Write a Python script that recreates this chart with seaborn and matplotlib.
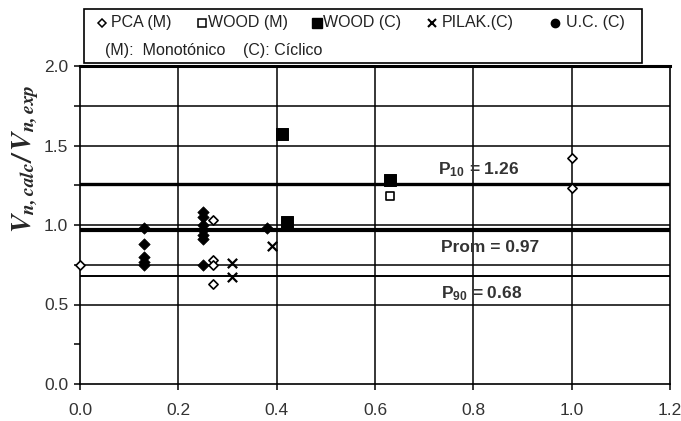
import matplotlib
matplotlib.use("Agg")
import matplotlib.pyplot as plt
import seaborn as sns
import numpy as np
import pandas as pd
from matplotlib.lines import Line2D
from matplotlib.patches import Rectangle

# ---- data ----
pca_x = [0.0, 0.27, 0.27, 0.27, 0.27, 1.0, 1.0]
pca_y = [0.75, 1.03, 0.78, 0.75, 0.63, 1.42, 1.23]
woodm_x = [0.63]
woodm_y = [1.18]
woodc_x = [0.41, 0.42, 0.63]
woodc_y = [1.57, 1.02, 1.28]
pilak_x = [0.31, 0.31, 0.39]
pilak_y = [0.76, 0.67, 0.87]
uc_x = [0.13, 0.13, 0.13, 0.13, 0.13, 0.25, 0.25, 0.25, 0.25, 0.25, 0.25, 0.25, 0.38]
uc_y = [0.98, 0.88, 0.80, 0.77, 0.75, 1.08, 1.05, 1.00, 0.97, 0.94, 0.91, 0.75, 0.98]
ref_values = [1.26, 0.97, 0.68]
ref_labels = [r"P$_{\mathregular{10}}$ = 1.26", "Prom = 0.97", r"P$_{\mathregular{90}}$ = 0.68"]
legend_labels = ["PCA (M)", "WOOD (M)", "WOOD (C)", "PILAK.(C)", "U.C. (C)"]
note_text = ["(M):  Monotónico", "(C): Cíclico"]
x_ticks = [0.0, 0.2, 0.4, 0.6, 0.8, 1.0, 1.2]
y_ticks = [0.0, 0.5, 1.0, 1.5, 2.0]

sns.set_theme(style="white")
plt.rcParams['font.family'] = ['Liberation Sans', 'DejaVu Sans']
plt.rcParams['mathtext.fontset'] = 'stix'

W, H = 681, 421
fig = plt.figure(figsize=(W/100, H/100), dpi=100)
ax = fig.add_axes([80/W, 1-384/H, 590/W, 318/H])

# grid lines
for xv in [0.2, 0.4, 0.6, 0.8, 1.0]:
    ax.axvline(xv, color='black', lw=1.1, zorder=1)
for yv in [0.5, 0.75, 1.0, 1.25, 1.5, 1.75]:
    ax.axhline(yv, color='black', lw=1.1, zorder=1)

# reference lines
ax.axhline(ref_values[0], color='black', lw=2.4, zorder=2)
ax.axhline(ref_values[1], color='black', lw=3.0, zorder=2)
ax.axhline(ref_values[2], color='black', lw=1.4, zorder=2)

# series
kw = dict(ax=ax, legend=False, zorder=5, clip_on=False)
sns.scatterplot(x=pca_x, y=pca_y, marker='D', s=22, facecolor='white', edgecolor='black', linewidth=1.2, **kw)
sns.scatterplot(x=woodm_x, y=woodm_y, marker='s', s=40, facecolor='white', edgecolor='black', linewidth=1.2, **kw)
sns.scatterplot(x=woodc_x, y=woodc_y, marker='s', s=75, color='black', edgecolor='black', **kw)
sns.scatterplot(x=pilak_x, y=pilak_y, marker='x', s=45, color='black', linewidth=1.6, **kw)
sns.scatterplot(x=uc_x, y=uc_y, marker='D', s=34, color='black', edgecolor='black', **kw)

# reference labels
lab_kw = dict(ha='center', va='center', fontsize=12.5, fontweight='bold', color='#333333', zorder=6)
ax.text(0.81, 1.345, ref_labels[0], **lab_kw)
ax.text(0.834, 0.86, ref_labels[1], **lab_kw)
ax.text(0.816, 0.57, ref_labels[2], **lab_kw)

ax.set_xlim(0, 1.2)
ax.set_ylim(0, 2.0)
ax.set_xticks(x_ticks)
ax.set_xticklabels([f"{v:.1f}" for v in x_ticks])
ax.set_yticks(y_ticks)
ax.set_yticklabels([f"{v:.1f}" for v in y_ticks])
ax.set_yticks([0.25, 0.75, 1.25, 1.75], minor=True)
ax.tick_params(axis='both', which='major', direction='out', length=4.5, width=1.1,
               color='black', labelsize=12.5, labelcolor='#333333', left=True, bottom=True)
ax.tick_params(axis='x', which='major', pad=9)
ax.tick_params(axis='y', which='major', pad=4)
ax.tick_params(axis='y', which='minor', direction='out', length=4, width=1.1, color='black', left=True)
for sp in ax.spines.values():
    sp.set_color('black')
    sp.set_linewidth(1.2)
ax.spines['top'].set_linewidth(2.2)

ax.set_ylabel(r'$\mathbfit{V_{n,calc}/\,V_{n,exp}}$', fontsize=20)
ax.yaxis.set_label_coords(-0.066, 0.71)

# legend box
fig.patches.append(Rectangle((84/W, 1-63/H), (642-84)/W, 54/H, transform=fig.transFigure,
                             facecolor='white', edgecolor='black', lw=1.2, zorder=10))
handles = [
    dict(marker='D', ms=4, mfc='white', mec='black', mew=1.1),
    dict(marker='s', ms=6, mfc='white', mec='black', mew=1.1),
    dict(marker='s', ms=7, mfc='black', mec='black'),
    dict(marker='x', ms=6, color='black', mew=1.5),
    dict(marker='o', ms=6, mfc='black', mec='black'),
]
marker_px = [102, 202, 317, 432, 555]
text_px = [111, 208, 323, 442, 566]
row1_y = 1 - 23/H
for h, mx, tx, lab in zip(handles, marker_px, text_px, legend_labels):
    ln = Line2D([mx/W], [row1_y], ls='none', transform=fig.transFigure, zorder=11, **h)
    fig.add_artist(ln)
    fig.text(tx/W, row1_y, lab, fontsize=11.5, va='center', ha='left', color='#222222', zorder=11)
row2_y = 1 - 50/H
fig.text(105/W, row2_y, note_text[0], fontsize=11.5, va='center', ha='left', color='#222222', zorder=11)
fig.text(243/W, row2_y, note_text[1], fontsize=11.5, va='center', ha='left', color='#222222', zorder=11)

fig.savefig("out.png", dpi=100)
